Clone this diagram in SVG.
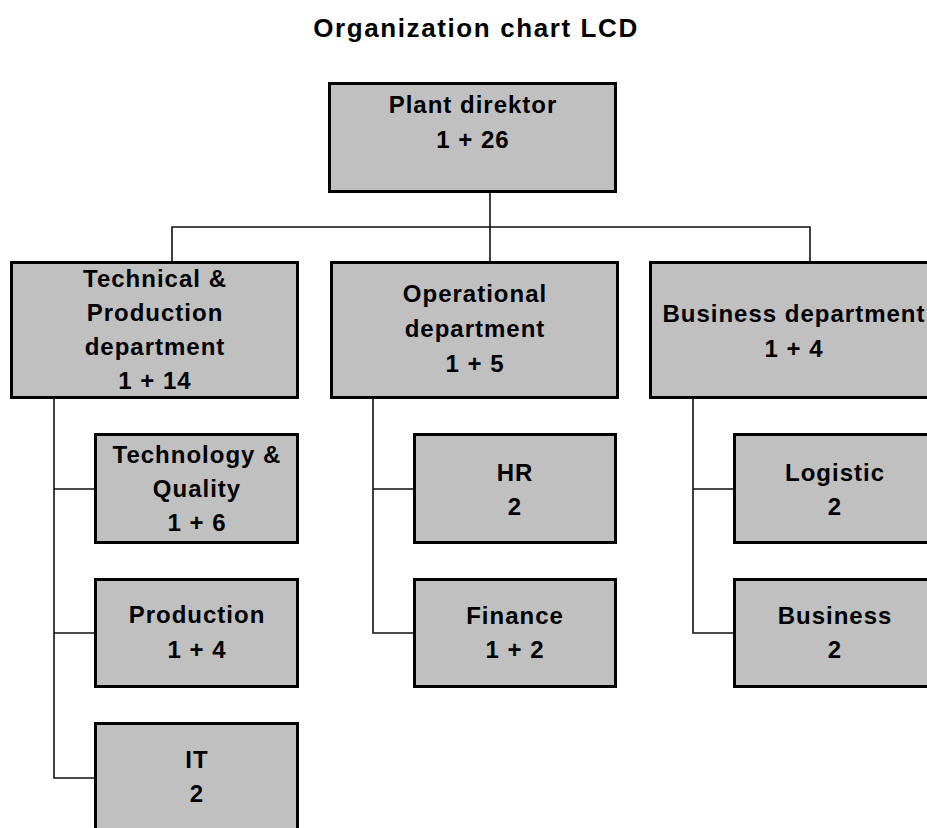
<svg xmlns="http://www.w3.org/2000/svg" width="927" height="828" viewBox="0 0 927 828">
<style>
.box{fill:#c0c0c0;stroke:#000;stroke-width:3}
.t{font-family:"Liberation Sans",Arial,sans-serif;font-weight:bold;font-size:24px;letter-spacing:1px;fill:#000;text-anchor:middle}
.title{font-family:"Liberation Sans",Arial,sans-serif;font-weight:bold;font-size:26px;letter-spacing:1.6px;fill:#000;text-anchor:middle}
.c{fill:none;stroke:#111;stroke-width:1.6}
</style>
<rect width="927" height="828" fill="#fff"/>
<text class="title" x="476" y="37">Organization chart LCD</text>
<g id="connectors">
<path class="c" d="M490 193V261M172 261V227H810V261"/>
<path class="c" d="M54 399V778H94M54 489H94M54 633H94"/>
<path class="c" d="M373 399V633H413M373 489H413"/>
<path class="c" d="M693 399V633H733M693 489H733"/>
</g>
<g id="plant-direktor">
<rect class="box" x="329.5" y="83.5" width="286" height="108"/>
<text class="t" x="473" y="113">Plant direktor</text>
<text class="t" x="473" y="148">1 + 26</text>
</g>
<g id="technical-production">
<rect class="box" x="11.5" y="262.5" width="286" height="135"/>
<text class="t" x="155" y="287">Technical &amp;</text>
<text class="t" x="155" y="321">Production</text>
<text class="t" x="155" y="355">department</text>
<text class="t" x="155" y="389">1 + 14</text>
</g>
<g id="operational">
<rect class="box" x="331.5" y="262.5" width="286" height="135"/>
<text class="t" x="475" y="302">Operational</text>
<text class="t" x="475" y="337">department</text>
<text class="t" x="475" y="372">1 + 5</text>
</g>
<g id="business-department">
<rect class="box" x="650.5" y="262.5" width="286" height="135"/>
<text class="t" x="794" y="322">Business department</text>
<text class="t" x="794" y="357">1 + 4</text>
</g>
<g id="technology-quality">
<rect class="box" x="95.5" y="434.5" width="202" height="108"/>
<text class="t" x="197" y="463">Technology &amp;</text>
<text class="t" x="197" y="497">Quality</text>
<text class="t" x="197" y="531">1 + 6</text>
</g>
<g id="production">
<rect class="box" x="95.5" y="579.5" width="202" height="107"/>
<text class="t" x="197" y="623">Production</text>
<text class="t" x="197" y="658">1 + 4</text>
</g>
<g id="it">
<rect class="box" x="95.5" y="723.5" width="202" height="108"/>
<text class="t" x="197" y="768">IT</text>
<text class="t" x="197" y="802">2</text>
</g>
<g id="hr">
<rect class="box" x="414.5" y="434.5" width="201" height="108"/>
<text class="t" x="515" y="481">HR</text>
<text class="t" x="515" y="515">2</text>
</g>
<g id="finance">
<rect class="box" x="414.5" y="579.5" width="201" height="107"/>
<text class="t" x="515" y="624">Finance</text>
<text class="t" x="515" y="658">1 + 2</text>
</g>
<g id="logistic">
<rect class="box" x="734.5" y="434.5" width="201" height="108"/>
<text class="t" x="835" y="481">Logistic</text>
<text class="t" x="835" y="515">2</text>
</g>
<g id="business">
<rect class="box" x="734.5" y="579.5" width="201" height="107"/>
<text class="t" x="835" y="624">Business</text>
<text class="t" x="835" y="658">2</text>
</g>
</svg>
